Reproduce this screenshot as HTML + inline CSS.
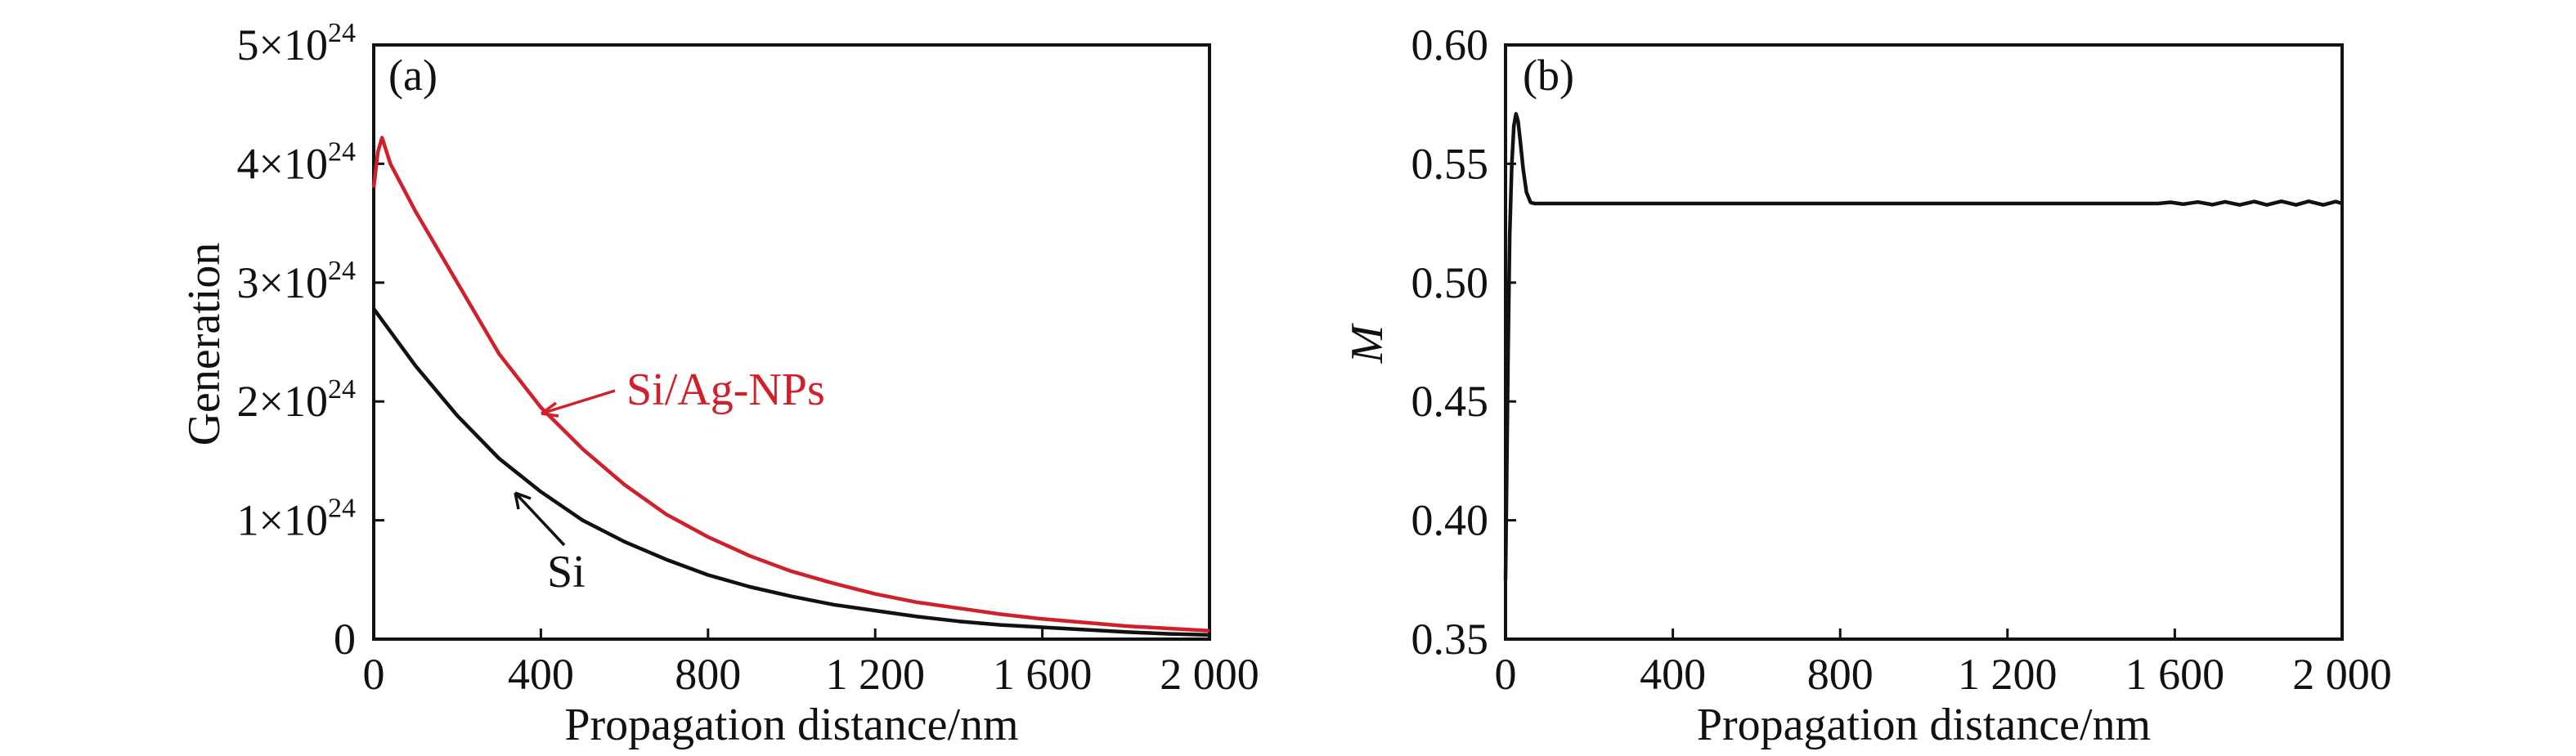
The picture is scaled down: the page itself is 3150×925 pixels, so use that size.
<!DOCTYPE html>
<html><head><meta charset="utf-8"><style>
html,body{margin:0;padding:0;background:#fff;}
svg{display:block;font-family:"Liberation Serif",serif;}
</style></head><body>
<svg id="chart" width="3150" height="925" viewBox="0 0 3150 925" xmlns="http://www.w3.org/2000/svg"></svg>
<script>
// Panel (a) data
const aX = [0,10,20,40,100,200,300,400,500,600,700,800,900,1000,1100,1200,1300,1400,1500,1600,1700,1800,1900,2000];
const aRed = [3.8,4.1,4.22,4.0,3.6,3.0,2.4,1.95,1.6,1.3,1.05,0.86,0.70,0.57,0.47,0.38,0.31,0.26,0.21,0.17,0.14,0.11,0.09,0.07];
const aBlackX = [0,100,200,300,400,500,600,700,800,900,1000,1100,1200,1300,1400,1500,1600,1700,1800,1900,2000];
const aBlack = [2.78,2.3,1.88,1.52,1.24,1.0,0.82,0.67,0.54,0.44,0.36,0.29,0.24,0.19,0.15,0.12,0.10,0.08,0.06,0.045,0.035];
const aYTicks = [0,1,2,3,4,5];
const xTicks = [0,400,800,1200,1600,2000];
const xTickLabels = ["0","400","800","1 200","1 600","2 000"];
// Panel (b) data
const bX = [0,3,6,10,15,20,25,30,35,42,50,60,70,100,400,800,1200,1560,1590,1620,1655,1690,1720,1755,1790,1820,1855,1890,1920,1955,1985,2000];
const bM = [0.375,0.42,0.47,0.52,0.55,0.566,0.571,0.568,0.56,0.548,0.538,0.5337,0.5333,0.5333,0.5333,0.5333,0.5333,0.5333,0.5338,0.5330,0.5339,0.5328,0.5340,0.5327,0.5341,0.5327,0.5342,0.5327,0.5342,0.5327,0.5341,0.5333];
const bYTicks = [0.35,0.40,0.45,0.50,0.55,0.60];

const svg = document.getElementById('chart');
const NS = 'http://www.w3.org/2000/svg';
function mk(tag, attrs, parent){const e=document.createElementNS(NS,tag);for(const k in attrs)e.setAttribute(k,attrs[k]);(parent||svg).appendChild(e);return e;}

const plotTop=55, plotBottom=782;
function panel(left,right,ymin,ymax){
  return {left,right,
    sx:v=>left+(v-0)/2000*(right-left),
    sy:v=>plotBottom-(v-ymin)/(ymax-ymin)*(plotBottom-plotTop)};
}
const A = panel(457,1479,0,5);
const B = panel(1841,2864,0.35,0.60);

function frame(P,name){
  const r = mk('rect',{x:P.left,y:plotTop,width:P.right-P.left,height:plotBottom-plotTop,fill:'none',stroke:'#111','stroke-width':4});
  
  
  xTicks.forEach((t,i)=>{
    const x=P.sx(t);
    const l=mk('line',{x1:x,y1:plotBottom,x2:x,y2:plotBottom-13,stroke:'#111','stroke-width':3});
    
    
    const tx=mk('text',{x:x,y:843,'font-size':54,'text-anchor':'middle',fill:'#111'});
    tx.textContent=xTickLabels[i];
    
    
  });
  const xt=mk('text',{x:(P.left+P.right)/2,y:905,'font-size':56,'text-anchor':'middle',fill:'#111'});
  xt.textContent='Propagation distance/nm';
  
  
}
function path(P,xs,ys,color,name,w){
  const d=xs.map((x,i)=>(i?'L':'M')+P.sx(x).toFixed(1)+','+P.sy(ys[i]).toFixed(1)).join(' ');
  const p=mk('path',{d:d,fill:'none',stroke:color,'stroke-width':w||4.5,'stroke-linejoin':'round'});
  
  
}

// Panel a
frame(A,'panel-a');
aYTicks.forEach(t=>{
  const y=A.sy(t);
  if(t>0&&t<5){const l=mk('line',{x1:A.left,y1:y,x2:A.left+13,y2:y,stroke:'#111','stroke-width':3});
  
  }
  const tx=mk('text',{x:435,y:y+18,'font-size':54,'text-anchor':'end',fill:'#111'});
  if(t===0){tx.textContent='0';}
  else{tx.textContent=t+'×10';const s=mk('tspan',{dy:-22,'font-size':34},tx);s.textContent='24';}
  
  
});
const ya=mk('text',{x:0,y:0,'font-size':56,'text-anchor':'middle',fill:'#111',transform:'translate(268,421) rotate(-90)'});
ya.textContent='Generation';


path(A,aBlackX,aBlack,'#111','si-curve');
path(A,aX,aRed,'#d0202a','si-ag-nps-curve');
const la=mk('text',{x:475,y:110,'font-size':54,fill:'#111'});
la.textContent='(a)';


const r1=mk('text',{x:766,y:495,'font-size':56,fill:'#d0202a'});
r1.textContent='Si/Ag-NPs';


const ar1=mk('path',{d:'M752,478 L662,506 M662,506 L680,493 M662,506 L683,509',stroke:'#d0202a','stroke-width':3.5,fill:'none'});


const s1=mk('text',{x:669,y:718,'font-size':56,fill:'#111'});
s1.textContent='Si';


const ar2=mk('path',{d:'M690,667 L630,603 M630,603 L634,623 M630,603 L649,610',stroke:'#111','stroke-width':3.5,fill:'none'});



// Panel b
frame(B,'panel-b');
bYTicks.forEach(t=>{
  const y=B.sy(t);
  if(t>0.351&&t<0.599){const l=mk('line',{x1:B.left,y1:y,x2:B.left+13,y2:y,stroke:'#111','stroke-width':3});
  
  }
  const tx=mk('text',{x:1820,y:y+18,'font-size':54,'text-anchor':'end',fill:'#111'});
  tx.textContent=t.toFixed(2);
  
  
});
const yb=mk('text',{x:0,y:0,'font-size':56,'font-style':'italic','text-anchor':'middle',fill:'#111',transform:'translate(1690,421) rotate(-90)'});
yb.textContent='M';


path(B,bX,bM,'#111','m-curve');
const lb=mk('text',{x:1862,y:110,'font-size':54,fill:'#111'});
lb.textContent='(b)';


</script>
</body></html>
